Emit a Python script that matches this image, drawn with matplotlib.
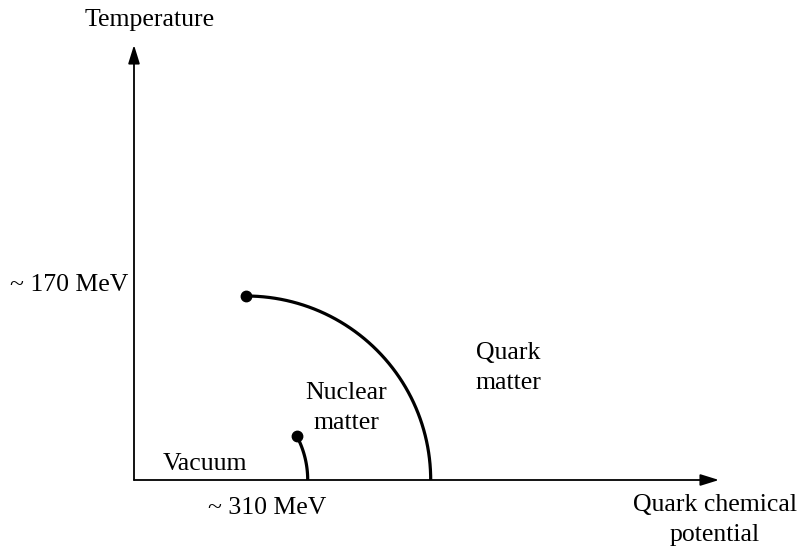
import numpy as np
import matplotlib.pyplot as plt

# schematic units: origin where the two axes meet
axis_end_x = 585
axis_end_y = 435

# crossover line: ends at a critical point, drops to the mu axis
crit_point = (112, 184)
crit_center = (112, 0)
crit_radius = (184.7, 184)

# nuclear liquid-gas line
nuc_point = (162.7, 44)
nuc_center = (80, 0)
nuc_radius = 93.7

labels = ["Vacuum", "Nuclear\nmatter", "Quark\nmatter"]
label_pos = [(71, 16), (212, 72), (374, 112)]

plt.rcParams['font.family'] = ['Liberation Serif', 'DejaVu Serif']

fig = plt.figure(figsize=(8.02, 5.46), dpi=100)
ax = fig.add_axes([0, 0, 1, 1])
ax.set_xlim(-134, 668)
ax.set_ylim(-66, 480)
ax.axis('off')

arrow = dict(arrowstyle='-|>,head_length=0.45,head_width=0.14', mutation_scale=25,
             lw=1.3, color='black', shrinkA=0, shrinkB=0)
ax.annotate('', xy=(axis_end_x, 0), xytext=(0, 0), arrowprops=arrow)
ax.annotate('', xy=(0, axis_end_y), xytext=(0, 0), arrowprops=arrow)

# big quarter arc
t = np.linspace(0, np.pi / 2, 200)
ax.plot(crit_center[0] + crit_radius[0] * np.sin(t),
        crit_center[1] + crit_radius[1] * np.cos(t), color='black', lw=2.3,
        solid_capstyle='butt')
ax.plot(*crit_point, 'o', color='black', markersize=7.5)

# small arc
a0 = np.arccos((nuc_point[0] - nuc_center[0]) / nuc_radius)
t = np.linspace(a0, 0, 100)
ax.plot(nuc_center[0] + nuc_radius * np.cos(t),
        nuc_center[1] + nuc_radius * np.sin(t), color='black', lw=2.3,
        solid_capstyle='butt')
ax.plot(*nuc_point, 'o', color='black', markersize=7.5)

fs = 18.5
ax.text(16, 460, "Temperature", fontsize=fs, ha='center', va='center')
ax.text(-6, 195, "~ 170 MeV", fontsize=fs, ha='right', va='center')
ax.text(133, -28, "~ 310 MeV", fontsize=fs, ha='center', va='center')
ax.text(581, -40, "Quark chemical\npotential", fontsize=fs, ha='center', va='center',
        linespacing=1.45)
for lab, (x, y) in zip(labels, label_pos):
    ax.text(x, y, lab, fontsize=fs, ha='center', va='center', linespacing=1.45)

fig.savefig("out.png", dpi=100)
